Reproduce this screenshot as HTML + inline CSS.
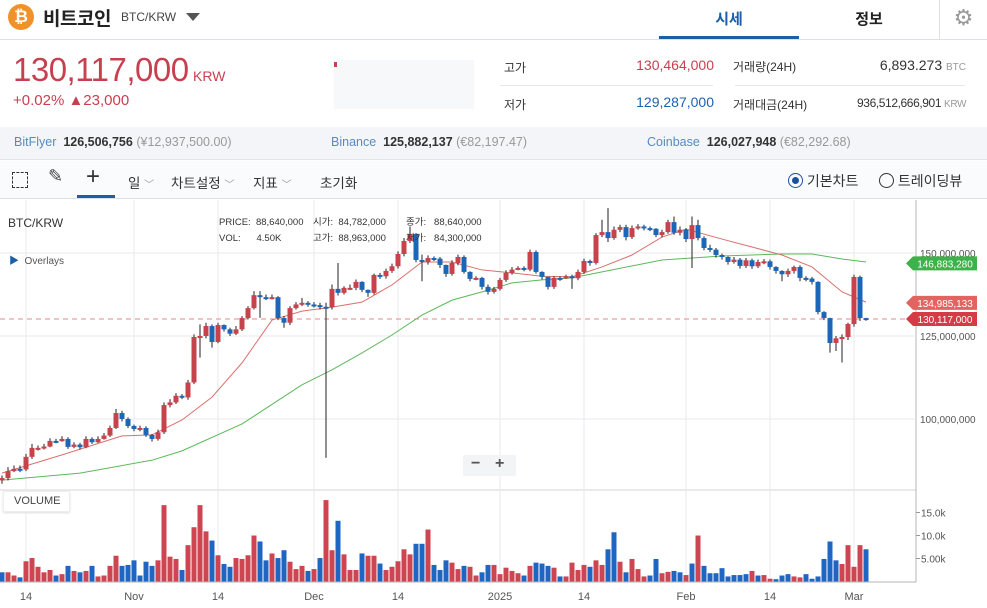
<!DOCTYPE html>
<html><head><meta charset="utf-8">
<style>
*{margin:0;padding:0;box-sizing:border-box}
body{width:987px;height:608px;overflow:hidden;background:#fff;font-family:"Liberation Sans","Noto Sans CJK KR",sans-serif;color:#333;position:relative}
.abs{position:absolute;white-space:nowrap}
</style></head><body>
<!-- header -->
<div class="abs" style="left:0;top:0;width:987px;height:40px;border-bottom:1px solid #dde1e6"></div>
<div class="abs" style="left:8px;top:4px;width:26px;height:26px;border-radius:50%;background:#f0922b;color:#fff;font-weight:bold;font-size:17px;text-align:center;line-height:26px">₿</div>
<div class="abs" style="left:43px;top:4px;font-size:19px;font-weight:bold;color:#222;letter-spacing:-0.5px">비트코인</div>
<div class="abs" style="left:121px;top:10px;font-size:12px;color:#444">BTC/KRW</div>
<div class="abs" style="left:186px;top:13px;width:0;height:0;border-left:7px solid transparent;border-right:7px solid transparent;border-top:8px solid #555"></div>
<div class="abs" style="left:659px;top:8px;width:140px;text-align:center;font-size:15px;font-weight:bold;color:#1a5fa8">시세</div>
<div class="abs" style="left:659px;top:36px;width:140px;height:3px;background:#1a5fa8"></div>
<div class="abs" style="left:799px;top:8px;width:140px;text-align:center;font-size:15px;font-weight:bold;color:#222">정보</div>
<div class="abs" style="left:939px;top:0;width:48px;height:39px;border-left:1px solid #dde1e6;text-align:center;font-size:22px;line-height:36px;color:#999">⚙</div>
<!-- price row -->
<div class="abs" style="left:13px;top:51px;font-size:33px;color:#c84050;letter-spacing:-0.5px">130,117,000</div>
<div class="abs" style="left:193px;top:68px;font-size:14px;color:#c84050">KRW</div>
<div class="abs" style="left:13px;top:92px;font-size:15px;color:#c84050">+0.02% ▲23,000</div>
<div class="abs" style="left:334px;top:60px;width:140px;height:49px;background:#f7f8fa"></div>
<div class="abs" style="left:334px;top:62px;width:3px;height:5px;background:#c84050"></div>
<div class="abs" style="left:504px;top:59px;font-size:12px">고가</div>
<div class="abs" style="left:600px;top:57px;width:114px;text-align:right;font-size:14px;color:#c84050">130,464,000</div>
<div class="abs" style="left:504px;top:96px;font-size:12px">저가</div>
<div class="abs" style="left:600px;top:94px;width:114px;text-align:right;font-size:14px;color:#1a62b0">129,287,000</div>
<div class="abs" style="left:500px;top:85px;width:213px;height:1px;background:#e6e8eb"></div>
<div class="abs" style="left:735px;top:85px;width:230px;height:1px;background:#e6e8eb"></div>
<div class="abs" style="left:733px;top:58px;font-size:12px">거래량(24H)</div>
<div class="abs" style="left:800px;top:57px;width:166px;text-align:right;font-size:14px">6,893.273 <span style="font-size:10px;color:#999">BTC</span></div>
<div class="abs" style="left:733px;top:96px;font-size:12px">거래대금(24H)</div>
<div class="abs" style="left:800px;top:96px;width:166px;text-align:right;font-size:12px;letter-spacing:-0.4px">936,512,666,901 <span style="font-size:10px;color:#999">KRW</span></div>
<!-- exchanges -->
<div class="abs" style="left:0;top:127px;width:987px;height:33px;background:#f3f5f8;border-bottom:1px solid #e2e5e9"></div>
<div class="abs" style="left:14px;top:135px;font-size:12.5px"><span style="color:#5a8ac0">BitFlyer</span>&nbsp; <b>126,506,756</b> <span style="color:#999">(¥12,937,500.00)</span></div>
<div class="abs" style="left:331px;top:135px;font-size:12.5px"><span style="color:#5a8ac0">Binance</span>&nbsp; <b>125,882,137</b> <span style="color:#999">(€82,197.47)</span></div>
<div class="abs" style="left:647px;top:135px;font-size:12.5px"><span style="color:#5a8ac0">Coinbase</span>&nbsp; <b>126,027,948</b> <span style="color:#999">(€82,292.68)</span></div>
<!-- toolbar -->
<div class="abs" style="left:0;top:161px;width:987px;height:38px;background:#fafbfc;border-bottom:1px solid #dde1e6"></div>
<div class="abs" style="left:12px;top:172px;width:16px;height:16px;border:1.5px dashed #333"></div>
<div class="abs" style="left:48px;top:166px;font-size:18px;color:#444">✎</div>
<div class="abs" style="left:86px;top:163px;font-size:24px;color:#333">+</div>
<div class="abs" style="left:77px;top:195px;width:38px;height:3px;background:#1a5fa8"></div>
<div class="abs" style="left:128px;top:172px;font-size:13.5px">일 <span style="color:#999;font-size:10px">﹀</span></div>
<div class="abs" style="left:171px;top:172px;font-size:13.5px">차트설정 <span style="color:#999;font-size:10px">﹀</span></div>
<div class="abs" style="left:253px;top:172px;font-size:13.5px">지표 <span style="color:#999;font-size:10px">﹀</span></div>
<div class="abs" style="left:320px;top:172px;font-size:13.5px">초기화</div>
<div class="abs" style="left:788px;top:171px;font-size:14px"><span style="display:inline-block;width:15px;height:15px;border:1.5px solid #1a4fa0;border-radius:50%;vertical-align:-2px;position:relative"><span style="position:absolute;left:2.5px;top:2.5px;width:7px;height:7px;border-radius:50%;background:#1a4fa0"></span></span> 기본차트</div>
<div class="abs" style="left:879px;top:171px;font-size:14px"><span style="display:inline-block;width:15px;height:15px;border:1.5px solid #333;border-radius:50%;vertical-align:-2px"></span> 트레이딩뷰</div>

<svg class="abs" style="left:0;top:199px" width="987" height="409" viewBox="0 199 987 409" font-family="Liberation Sans, sans-serif">
<g id="grid"></g><g id="vol"></g><g id="ma"></g><g id="candles"></g><g id="labels"></g>
</svg>
<div class="abs" style="left:8px;top:216px;font-size:12px;color:#333">BTC/KRW</div>
<div class="abs" style="left:9px;top:252px;font-size:10px;color:#555"><span style="color:#1a5fa8">▶</span>&nbsp; Overlays</div>
<div class="abs" style="left:219px;top:215px;font-size:9.5px;color:#333;line-height:16px">PRICE:&nbsp; 88,640,000<br>VOL:&nbsp;&nbsp;&nbsp;&nbsp;&nbsp; 4.50K</div>
<div class="abs" style="left:313px;top:215px;font-size:9.5px;color:#333;line-height:16px">시가:&nbsp; 84,782,000<br>고가:&nbsp; 88,963,000</div>
<div class="abs" style="left:406px;top:215px;font-size:9.5px;color:#333;line-height:16px">종가:&nbsp;&nbsp; 88,640,000<br>저가:&nbsp;&nbsp; 84,300,000</div>
<div class="abs" style="left:463px;top:455px;width:53px;height:21px;background:#f3f4f6;border-radius:2px;font-size:16px;font-weight:bold;color:#555"><span style="position:absolute;left:8px;top:0">−</span><span style="position:absolute;left:32px;top:0">+</span></div>
<div class="abs" style="left:3px;top:491px;width:67px;height:21px;background:#fff;border:1px solid #eee;box-shadow:0 1px 2px #ddd;font-size:11px;line-height:19px;padding-left:10px;color:#444">VOLUME</div>

<script>
const ohlcOpen=[81.5,82.2,84.3,85,84.8,88.6,91.3,91.3,91.7,93.4,93.3,94,91.6,92.3,91.5,94,93,94,95,97.3,101.8,100,97.9,97,97.3,95.2,94,96,104.2,105,107,106.5,111,124.7,125,128,123.2,128.3,127,125.7,127,130.4,133.4,137.3,136.7,136.5,136.7,130.4,129,133.4,134.5,135,134.5,134.3,133.8,133.7,139.2,138,139.5,139.5,141.3,138.9,138,143.4,143,144.6,146,149.7,153.6,155.7,147.9,147.3,148.5,148.3,146.4,143.7,147,148.8,144.3,142.2,142.5,139.8,138.3,139.2,141.9,144,145,145.5,145,150.3,144.3,142.8,139.8,142.5,142.3,143,142.4,144.3,147.6,147,155.4,156.3,154.5,157,157.8,154.8,157.5,158,157.5,157.3,155.4,156.3,159.3,156.1,157,154.2,158.4,154.5,151.5,151,149.4,148.8,147.3,148,146.1,147.8,146,147.3,147.5,145.8,144.6,143.6,144.6,145.8,142.5,142.3,141.3,132.2,130.4,122.9,124.3,124.7,128.6,142.8,130.4];
const ohlcClose=[82.2,84.3,85,84.8,88.6,91.3,91.3,91.7,93.4,93.3,94,91.6,92.3,91.5,94,93,94,95,97.3,101.8,100,97.9,97,97.3,95.2,94,96,104.2,105,107,106.5,111,124.7,125,128,123.2,128.3,127,125.7,127,130.4,133.4,137.3,136.7,136.5,136.7,130.4,129,133.4,134.5,135,134.5,134.3,133.8,133.7,139.2,138,139.5,139.5,141.3,138.9,138,143.4,143,144.6,146,149.7,153.6,155.7,147.9,147.3,148.5,148.3,146.4,143.7,147,148.8,144.3,142.2,142.5,139.8,138.3,139.2,141.9,144,145,145.5,145,150.3,144.3,142.8,139.8,142.5,142.3,143,142.4,144.3,147.6,147,155.4,156.3,154.5,157,157.8,154.8,157.5,158,157.5,157.3,155.4,156.3,159.3,156.1,157,154.2,158.4,154.5,151.5,151,149.4,148.8,147.3,148,146.1,147.8,146,147.3,147.5,145.8,144.6,143.6,144.6,145.8,142.5,142.3,141.3,132.2,130.4,122.9,124.3,124.7,128.6,142.8,130.4,130.1];
const ohlcHigh=[83,85.5,86,86,89.5,92.5,92,92.5,94.2,94,94.8,94.5,93,92.8,94.8,94.5,94.8,95.8,98,103,102.5,100.5,98.3,98,97.8,95.5,96.8,105,106,107.8,107.5,111.8,125.5,128.5,129,128.5,129,128.5,127.5,128,131,134,138.5,138.5,137.5,137.5,137,131,134,135.2,136.5,135.5,135.2,135,135,140.5,147,140,140.5,142,141.5,139,143.8,144,145.3,146.8,150.5,154.5,158,156,149.5,149.3,149,148.8,146.5,147.8,149.5,149.3,144.5,143,142.8,140.5,139.8,142.5,144.8,145.8,146,146,151,150.8,144.5,142.8,143,143,143.5,143.5,145,148.3,148,156,160,163.5,158,158.5,158.5,158.3,158.7,158.5,158,157.5,157,160,161,158,157.5,161,160,155,152.5,151.5,149.8,149,148.8,148.5,148.5,148.3,148,148.2,148,146,144.8,145.3,146.2,146.3,143,142.8,141.5,132.5,130.5,125,125.5,129,143.5,143.2,130.5];
const ohlcLow=[80.5,81.5,84,84,84.3,88,90.5,90.8,91.5,92.7,93.2,91,91.2,90.8,91.2,92.5,92.8,93.8,94.6,97,99.3,97.3,96.3,96.3,94.6,93.2,93.5,95.5,103.5,104.5,106,105.8,110.5,118.5,124.3,121.5,122.8,126.3,125,125.3,126.5,130,133,130.5,135.8,136,129.8,127.5,128.3,133,134,133.8,133.6,133,88.3,133,137.2,137.5,138.8,138.8,138.2,136.8,137.5,142.2,142.3,144,145.3,149,153,147.2,141.5,146.5,147.6,145.5,142.8,143.2,146.3,143.8,141.5,141.8,139,137.5,137.8,138.7,141.3,143.5,144.8,144.5,144.5,143.8,142,139,139.2,141.6,142.2,139.2,141.8,143.7,146.2,146.5,154.8,153.3,154,156.3,153.8,154.2,157,156.8,156.6,154.8,154.7,155.8,155.5,155.3,153.3,145.5,153.8,150.8,150.3,148.6,148,146.5,146.8,145.3,145.5,145.2,145.5,146.6,145,143.8,141.5,142.8,143.8,141.5,141.5,140.5,131.5,129.8,120,120.5,117,123.8,127.8,129.5,129.6];
const volumes=[2,2,1.3,0.9,4.4,5.1,3.2,2,2.5,1.3,1.6,3.4,2.3,2,2.3,3.4,1.1,1.3,3.4,5.6,3.4,3.6,4.6,1.3,4.3,3.4,4.6,16.6,5.4,4.9,2.5,7.9,11.8,16.6,10.9,8.9,5.7,3.8,3.2,5.1,4.9,5.7,10,8.7,4.6,6.1,5.1,6.8,4.3,2.7,3.4,2.3,2.7,5.1,17.7,6.8,13.2,5.9,2.5,2.5,6.1,5.6,5.6,3.9,2.5,3.2,4.4,7,5.9,8.2,8.2,11.3,3.6,2.5,4.6,4.1,2.7,3.4,3.2,1.3,2,3.6,3.6,1.6,3,2.3,1.8,1.3,3.4,4.1,3.9,3.4,3,1.1,1.1,4.1,2.5,3.6,3.2,4.6,3.6,7,10.7,4.3,2,4.9,2.7,1.1,1.3,4.9,1.8,2.1,2.3,2,1.4,3.9,10,3.4,1.8,1.8,2.9,1.1,1.4,1.4,1.6,2.3,1.3,1.4,0.6,0.5,1.3,1.6,1.1,0.9,1.6,0.6,1.1,4.9,8.7,4.6,3.8,7.9,3.2,7.9,7];
const volDir="brrbrrrrrb"+"rbrbrbrrrr"+"bbbbbbrrrr"+"brrrrbrbbr"+"rrrbbrbbrr"+"rbrbrrbrrr"+"brrbrrrrrb"+"brbbbrrbrr"+"bbrrrrrbrb"+"bbrbrrrrbr"+"rbbrbrrrbb"+"rrbbrbrbbb"+"bbbbbrbrrb"+"bbrrbbbbbb"+"rrrrb";
const priceTicks=[150,125,100];
const priceTickLabels=["150,000,000","125,000,000","100,000,000"];
const volTicks=[15,10,5];
const volTickLabels=["15.0k","10.0k","5.00k"];
const dateTickIdx=[4,22,36,52,66,83,97,114,128,142];
const dateTickLabels=["14","Nov","14","Dec","14","2025","14","Feb","14","Mar"];
const maIdx=[0,10,20,25,30,35,40,45,50,55,60,65,70,75,80,85,90,95,100,105,110,114,120,125,130,135,140,144];
const maShort=[83.7,89.2,94.9,95.2,99.7,106.6,116.9,129.8,132.5,133.7,135.2,140.4,147.3,147.3,144.9,144,143,142.8,145.8,149.4,154.8,157.2,154.2,151.8,149.4,145.8,138.3,135.2];
const maLongIdx=[0,13,25,30,40,50,55,60,65,70,75,80,85,90,95,100,110,120,130,135,140,144];
const maLong=[81.6,83.7,87.6,90.4,98.5,110.3,114.8,119.9,125.3,131.3,135.8,138.3,141,141.9,142.5,144.3,147.9,149.1,149.7,149.7,148.2,147.3];
const lastPrice=130.117, maShortLast="134,985,133", maLongLast="146,883,280";

const NS="http://www.w3.org/2000/svg";
const xOf=i=>2+6*i;
const yP=p=>253+(150-p)*3.32;
const yV=v=>581.5-v*4.6;
function mk(tag,attrs,parent,text){const e=document.createElementNS(NS,tag);for(const k in attrs)e.setAttribute(k,attrs[k]);if(text!==undefined)e.textContent=text;document.getElementById(parent).appendChild(e);return e;}
const RED="#c8424c",BLUE="#1c66b8";
let e;
e=mk('line',{x1:0,y1:490,x2:916,y2:490,stroke:'#d0d4d9'},'grid');

e=mk('line',{x1:0,y1:582,x2:916,y2:582,stroke:'#b0b4b9'},'grid');

e=mk('line',{x1:916,y1:200,x2:916,y2:582,stroke:'#b0b4b9'},'grid');

priceTicks.forEach((p,k)=>{
  e=mk('line',{x1:0,y1:yP(p),x2:916,y2:yP(p),stroke:'#e8eaed'},'grid');
  
  e=mk('text',{x:920,y:yP(p)+4,'font-size':10,fill:'#555'},'labels',priceTickLabels[k]);
  
});
volTicks.forEach((v,k)=>{
  e=mk('line',{x1:916,y1:yV(v),x2:920,y2:yV(v),stroke:'#999'},'grid');
  
  e=mk('text',{x:921,y:yV(v)+4,'font-size':10,fill:'#555'},'labels',volTickLabels[k]);
  
});
dateTickIdx.forEach((d,k)=>{
  e=mk('line',{x1:xOf(d),y1:200,x2:xOf(d),y2:582,stroke:'#e8eaed'},'grid');
  
  e=mk('text',{x:xOf(d),y:600,'font-size':11,fill:'#555','text-anchor':'middle'},'labels',dateTickLabels[k]);
  
});
volumes.forEach((v,i)=>{
  e=mk('rect',{x:xOf(i)-2.5,y:yV(v),width:5,height:581.5-yV(v),fill:volDir[i]==='r'?'#cc4550':'#1f66c2'},'vol');
  
});
e=mk('polyline',{points:maLongIdx.map((d,k)=>xOf(d)+','+yP(maLong[k])).join(' '),fill:'none',stroke:'#5cb85c','stroke-width':1},'ma');

e=mk('polyline',{points:maIdx.map((d,k)=>xOf(d)+','+yP(maShort[k])).join(' '),fill:'none',stroke:'#d9706c','stroke-width':1},'ma');

e=mk('line',{x1:0,y1:yP(lastPrice),x2:916,y2:yP(lastPrice),stroke:'#e08a8a','stroke-dasharray':'5,4'},'ma');

ohlcClose.forEach((c,i)=>{
  const o=ohlcOpen[i],up=c>=o,col=up?RED:BLUE,x=xOf(i);
  e=mk('line',{x1:x,y1:yP(ohlcHigh[i]),x2:x,y2:yP(ohlcLow[i]),stroke:'#222','stroke-width':1},'candles');
  
  const t=yP(Math.max(o,c)),b=yP(Math.min(o,c));
  e=mk('rect',{x:x-2.5,y:t,width:5,height:Math.max(2,b-t),fill:col},'candles');
  
});
function tag(val,label,col,name){
  const y=yP(val);
  e=mk('path',{d:`M906 ${y} L913 ${y-7} L977 ${y-7} L977 ${y+7} L913 ${y+7} Z`,fill:col},'labels');
  
  e=mk('text',{x:945,y:y+4,'font-size':10,fill:'#fff','text-anchor':'middle'},'labels',label);
  
}
tag(146.88,maLongLast,'#3db24a','ma-long-tag');
tag(134.985,maShortLast,'#e06560','ma-short-tag');
tag(lastPrice,"130,117,000",'#d63a45','last-price-tag');
</script>
</body></html>
